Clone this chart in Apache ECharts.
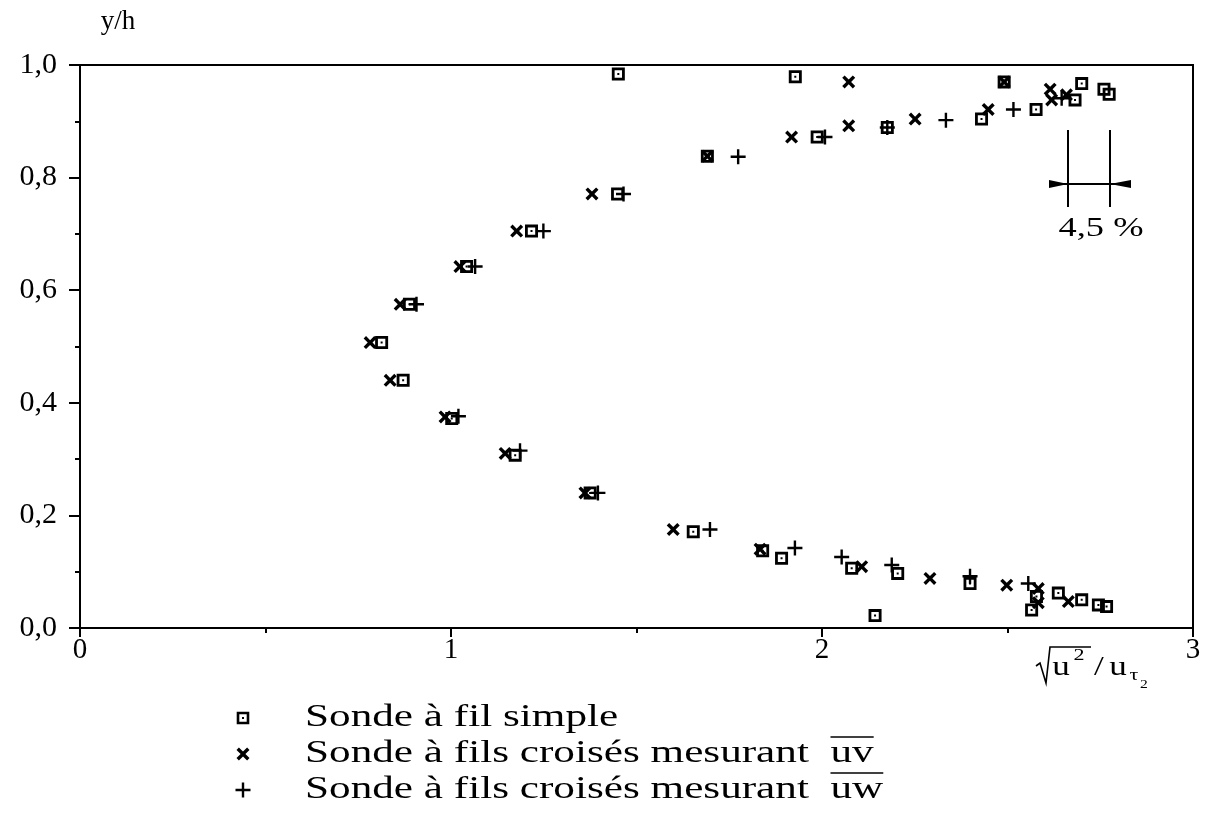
<!DOCTYPE html>
<html>
<head>
<meta charset="utf-8">
<script src="https://cdn.jsdelivr.net/npm/echarts@6/dist/echarts.min.js"></script>
<style>
html,body{margin:0;padding:0;background:#fff;}
#chart{width:1209px;height:828px;}
</style>
</head>
<body>
<div id="chart"></div>
<script>
// ---- data ----
const seriesNames = [
  'Sonde à fil simple',
  'Sonde à fils croisés mesurant  uv',
  'Sonde à fils croisés mesurant  uw'
];
// Sonde à fil simple (square with dot)
const simpleWire = [
  [1.451,0.984],[1.928,0.979],[2.491,0.970],[2.700,0.967],[2.760,0.957],[2.774,0.948],
  [2.682,0.938],[2.577,0.921],[2.430,0.904],[2.176,0.889],[1.987,0.872],[1.691,0.838],
  [1.449,0.771],[1.217,0.705],[1.042,0.642],[0.888,0.575],[0.813,0.507],[0.871,0.440],
  [1.002,0.372],[1.173,0.307],[1.375,0.240],[1.653,0.171],[1.840,0.137],[1.891,0.124],
  [2.080,0.106],[2.204,0.097],[2.399,0.079],[2.143,0.022],[2.565,0.032],[2.578,0.056],
  [2.637,0.062],[2.700,0.050],[2.745,0.041],[2.767,0.038]
];
// Sonde à fils croisés mesurant uv (x)
const crossedUV = [
  [2.072,0.970],[2.491,0.970],[2.615,0.957],[2.619,0.938],[2.659,0.947],[2.448,0.921],
  [2.251,0.904],[2.072,0.892],[1.918,0.872],[1.691,0.838],[1.380,0.771],[1.177,0.705],
  [1.024,0.642],[0.863,0.575],[0.782,0.507],[0.836,0.440],[0.984,0.375],[1.146,0.310],
  [1.361,0.240],[1.599,0.175],[1.833,0.140],[2.107,0.109],[2.291,0.088],[2.498,0.076],
  [2.583,0.070],[2.583,0.045],[2.664,0.047]
];
// Sonde à fils croisés mesurant uw (+)
const crossedUW = [
  [2.646,0.941],[2.516,0.921],[2.334,0.902],[2.176,0.889],[2.008,0.872],[1.774,0.837],
  [1.465,0.771],[1.249,0.705],[1.065,0.642],[0.907,0.575],[1.020,0.376],[1.186,0.315],
  [1.396,0.240],[1.698,0.175],[1.927,0.142],[2.053,0.126],[2.188,0.112],[2.399,0.092],
  [2.556,0.079]
];
const xTickLabels = ['0','1','2','3'];
const yTickLabels = ['0,0','0,2','0,4','0,6','0,8','1,0'];

// ---- symbols ----
const SQ = 'path://M0,0L13,0L13,13L0,13Z M2.8,2.8L2.8,10.2L10.2,10.2L10.2,2.8Z M5.5,5.5L7.5,5.5L7.5,7.5L5.5,7.5Z';
const CROSS_PTS = [[0,2.4],[2.4,0],[6.5,4.1],[10.6,0],[13,2.4],[8.9,6.5],[13,10.6],[10.6,13],[6.5,8.9],[2.4,13],[0,10.6],[4.1,6.5]];
const PLUS_PTS = [[6.3,0],[8.7,0],[8.7,6.3],[15,6.3],[15,8.7],[8.7,8.7],[8.7,15],[6.3,15],[6.3,8.7],[0,8.7],[0,6.3],[6.3,6.3]];
const toPath = pts => 'path://' + pts.map((p, i) => (i ? 'L' : 'M') + p[0] + ',' + p[1]).join('') + 'Z';
const symbols = [SQ, toPath(CROSS_PTS), toPath(PLUS_PTS)];
const symbolSizes = [13, 13, 15];
const FONT = "'Liberation Serif', 'DejaVu Serif', serif";
const STRETCH = 1.3; // the original lettering is wide

const chart = echarts.init(document.getElementById('chart'));

function measure(text, size) {
  const c = document.createElement('canvas').getContext('2d');
  c.font = size + 'px ' + FONT;
  return c.measureText(text).width;
}
function txt(x, y, text, size, align, sx) {
  return {
    type: 'text', x: x, y: y, scaleX: sx || STRETCH,
    style: { text: text, font: size + 'px ' + FONT, fill: '#000', align: align || 'center', verticalAlign: 'middle' }
  };
}

// Legend built from the series names
const legendX = 243, legendTextX = 305, legendY0 = 718, legendDy = 36, legendFont = 32, legendStretch = 1.35;
const legendGraphics = [];
function iconGraphics(i, cx, cy) {
  const s = symbolSizes[i];
  if (i === 0) {
    return [
      { type: 'rect', shape: { x: cx - 5, y: cy - 5, width: 10, height: 10 }, style: { fill: null, stroke: '#000', lineWidth: 2.6 } },
      { type: 'rect', shape: { x: cx - 1, y: cy - 1, width: 2, height: 2 }, style: { fill: '#000' } }
    ];
  }
  const pts = (i === 1 ? CROSS_PTS : PLUS_PTS).map(p => [cx - s/2 + p[0], cy - s/2 + p[1]]);
  return [{ type: 'polygon', shape: { points: pts }, style: { fill: '#000' } }];
}
seriesNames.forEach((name, i) => {
  const y = legendY0 + i * legendDy;
  iconGraphics(i, legendX, y).forEach(g => legendGraphics.push(g));
  legendGraphics.push(txt(legendTextX, y, name, legendFont, 'left', legendStretch));
  if (i > 0) {
    const base = name.slice(0, name.length - 2);
    const x0 = legendTextX + measure(base, legendFont) * legendStretch;
    const w = measure(name.slice(-2), legendFont) * legendStretch;
    legendGraphics.push({
      type: 'line', shape: { x1: x0, y1: y - 17, x2: x0 + w, y2: y - 17 },
      style: { stroke: '#000', lineWidth: 1.3 }
    });
  }
});

// x-axis name pieces (sqrt(u^2) / u_tau2)
const nameGraphics = [
  { type: 'polyline', shape: { points: [[1036,666],[1040,663],[1046,683],[1050,647],[1091,647]] },
    style: { stroke: '#000', lineWidth: 1.6, fill: null } },
  txt(1061, 668, 'u', 27),
  txt(1079, 656, '2', 17),
  txt(1099, 668, '/', 27),
  txt(1118, 668, 'u', 27),
  txt(1134, 676, 'τ', 17),
  txt(1144, 685, '2', 12)
];

// 4,5 % scale annotation
const annoGraphics = [
  { type: 'line', shape: { x1: 1068, y1: 130, x2: 1068, y2: 207 }, style: { stroke: '#000', lineWidth: 2 } },
  { type: 'line', shape: { x1: 1110, y1: 130, x2: 1110, y2: 207 }, style: { stroke: '#000', lineWidth: 2 } },
  { type: 'line', shape: { x1: 1050, y1: 184, x2: 1130, y2: 184 }, style: { stroke: '#000', lineWidth: 2 } },
  { type: 'polygon', shape: { points: [[1049,180],[1068,184],[1049,188]] }, style: { fill: '#000' } },
  { type: 'polygon', shape: { points: [[1131,180],[1110,184],[1131,188]] }, style: { fill: '#000' } },
  txt(1101, 229, '4,5 %', 28)
];

const seriesData = [simpleWire, crossedUV, crossedUW];

chart.setOption({
  animation: false,
  backgroundColor: '#fff',
  grid: { left: 80, right: 16, top: 65, bottom: 200, show: true, borderColor: '#000', borderWidth: 2, backgroundColor: 'transparent' },
  xAxis: {
    type: 'value', min: 0, max: 3, interval: 1,
    axisLine: { show: true, onZero: false, lineStyle: { color: '#000', width: 2 } },
    axisTick: { show: true, length: 9, lineStyle: { color: '#000', width: 2 } },
    minorTick: { show: true, splitNumber: 2, length: 5, lineStyle: { color: '#000', width: 2 } },
    splitLine: { show: false },
    axisLabel: { fontFamily: FONT, fontSize: 29, color: '#000', margin: 8,
      formatter: v => xTickLabels[Math.round(v)] }
  },
  yAxis: {
    type: 'value', min: 0, max: 1, interval: 0.2,
    name: 'y/h', nameLocation: 'end', nameGap: 30,
    nameTextStyle: { fontFamily: FONT, fontSize: 27, color: '#000', padding: [0, 0, 0, 76] },
    axisLine: { show: true, onZero: false, lineStyle: { color: '#000', width: 2 } },
    axisTick: { show: true, length: 11, lineStyle: { color: '#000', width: 2 } },
    minorTick: { show: true, splitNumber: 2, length: 5, lineStyle: { color: '#000', width: 2 } },
    splitLine: { show: false },
    axisLabel: { fontFamily: FONT, fontSize: 30, color: '#000', margin: 23,
      formatter: v => yTickLabels[Math.round(v * 5)] }
  },
  series: seriesData.map((d, i) => ({
    name: seriesNames[i],
    type: 'scatter',
    data: d,
    symbol: symbols[i],
    symbolSize: symbolSizes[i],
    itemStyle: { color: '#000', opacity: 1 },
    z: 3 + i
  })),
  graphic: legendGraphics.concat(nameGraphics, annoGraphics)
});
</script>
</body>
</html>
